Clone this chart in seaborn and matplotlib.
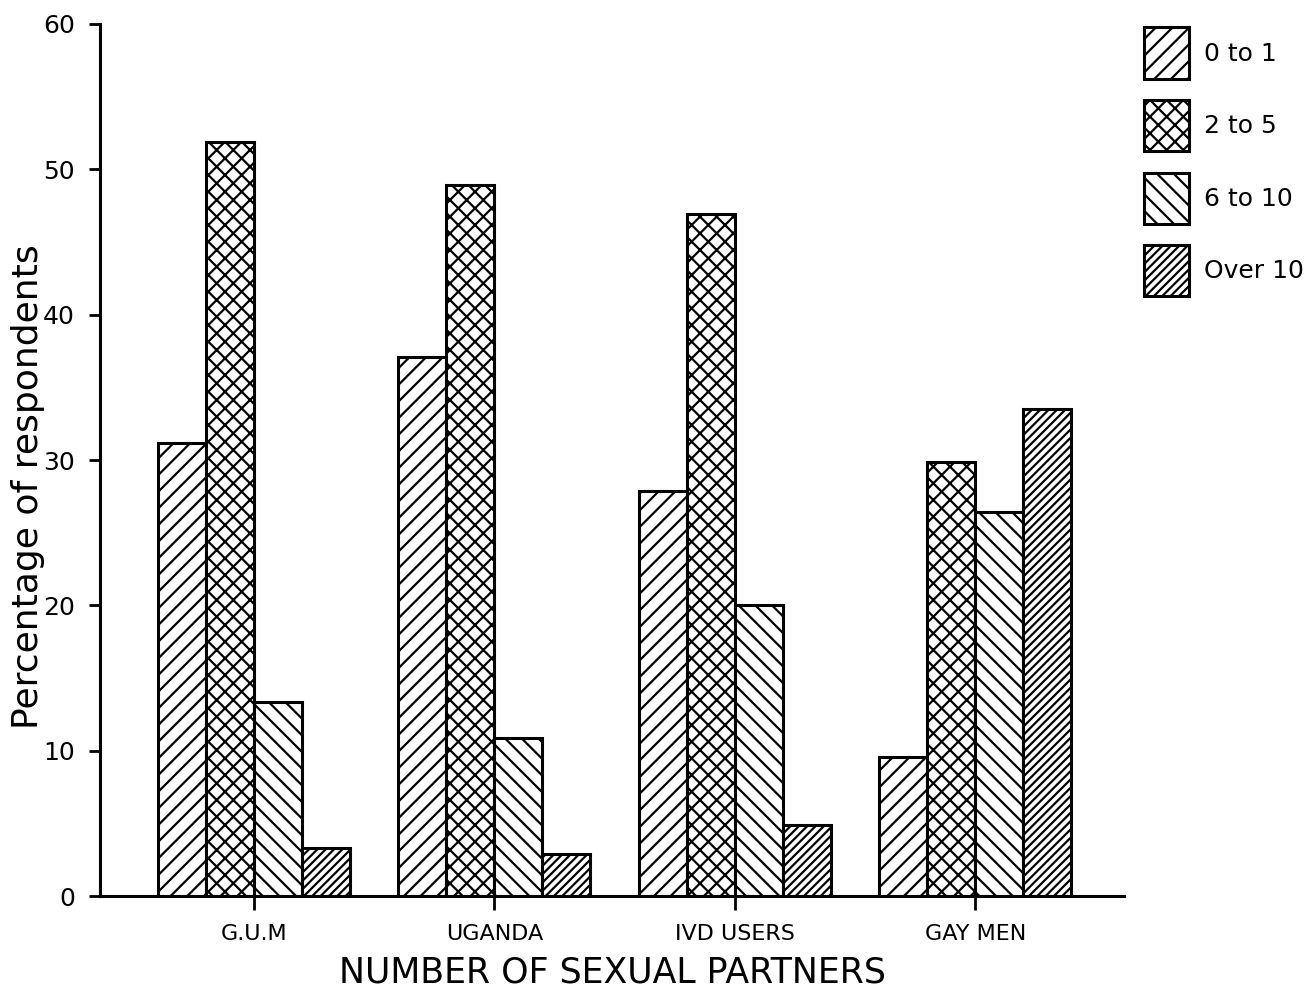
import matplotlib
matplotlib.use("Agg")
import matplotlib.pyplot as plt
import pandas as pd
import seaborn as sns
from matplotlib.patches import Patch

groups = ["G.U.M", "UGANDA", "IVD USERS", "GAY MEN"]
partner_bins = ["0 to 1", "2 to 5", "6 to 10", "Over 10"]
pct_0_1 = [31.2, 37.1, 27.9, 9.6]
pct_2_5 = [51.9, 48.9, 46.9, 29.9]
pct_6_10 = [13.35, 10.9, 20.0, 26.4]
pct_over_10 = [3.3, 2.9, 4.9, 33.5]
hatches = ["//", "xx", "\\\\", "////"]

rows = []
for b, vals in zip(partner_bins, [pct_0_1, pct_2_5, pct_6_10, pct_over_10]):
    for g, v in zip(groups, vals):
        rows.append({"group": g, "partners": b, "pct": v})
df = pd.DataFrame(rows)

sns.set_theme(style="ticks")
plt.rcParams["font.family"] = ["DejaVu Sans"]
plt.rcParams["hatch.linewidth"] = 1.6
plt.rcParams["hatch.color"] = "black"
plt.rcParams["text.color"] = "black"
plt.rcParams["axes.labelcolor"] = "black"
plt.rcParams["xtick.color"] = "black"
plt.rcParams["ytick.color"] = "black"
plt.rcParams["axes.edgecolor"] = "black"

fig = plt.figure(figsize=(13.15, 9.98), dpi=100)
ax = fig.add_axes([0.076, 0.102, 0.779, 0.874])

sns.barplot(data=df, x="group", y="pct", hue="partners", order=groups,
            hue_order=partner_bins, palette=["white"] * 4, edgecolor="black",
            linewidth=2.2, width=0.8, errorbar=None, legend=False, ax=ax)

for cont, h in zip(ax.containers, hatches):
    for bar in cont:
        bar.set_hatch(h)
        bar.set_edgecolor("black")

ax.set_xlim(-0.64, 3.62)
ax.set_ylim(0, 60)
ax.set_yticks(range(0, 61, 10))
ax.tick_params(axis="y", labelsize=18, width=2, length=8, pad=10)
ax.tick_params(axis="x", labelsize=16, width=2, length=10, pad=10)
for s in ["top", "right"]:
    ax.spines[s].set_visible(False)
for s in ["left", "bottom"]:
    ax.spines[s].set_linewidth(2.2)
ax.set_ylabel("Percentage of respondents", fontsize=26)
ax.yaxis.set_label_coords(-0.054, 0.469)
ax.set_xlabel("NUMBER OF SEXUAL PARTNERS", fontsize=25, labelpad=8)

handles = [Patch(facecolor="white", edgecolor="black", linewidth=2.2, hatch=h)
           for h in hatches]
fig.legend(handles, partner_bins, loc="upper left", bbox_to_anchor=(0.853, 0.995),
           frameon=False, fontsize=18, handlelength=1.8, handleheight=2.78,
           labelspacing=0.85, handletextpad=0.6)

fig.savefig("out.png", dpi=100)
